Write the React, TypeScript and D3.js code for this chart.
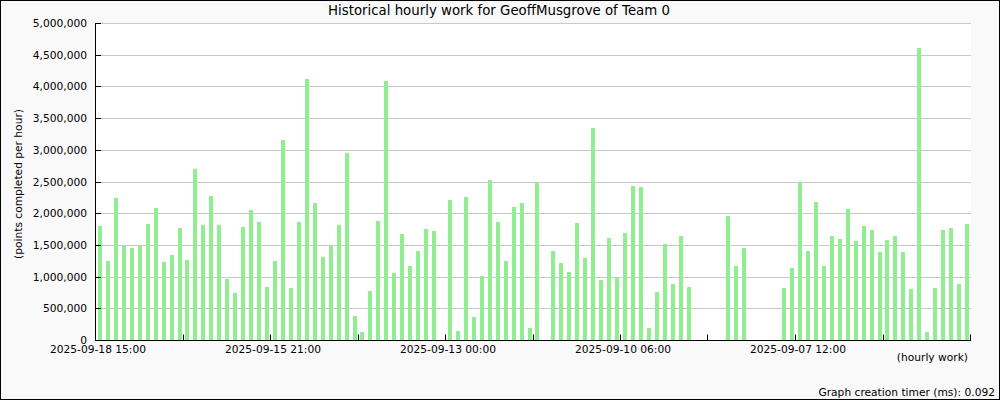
import React, { useEffect, useRef } from "react";
import * as d3 from "d3";

const TITLE = "Historical hourly work for GeoffMusgrove of Team 0";
const Y_LABEL = "(points completed per hour)";
const X_LABEL = "(hourly work)";
const FOOTER = "Graph creation timer (ms): 0.092";

const values: (number | null)[] = [
  1800000, 1250000, 2245000, 1488000, 1456000, 1488000, 1835000, 2087000, 1235000, 1346000,
  1772000, 1267000, 2702000, 1819000, 2276000, 1819000, 967000, 746000, 1787000, 2056000,
  1866000, 841000, 1251000, 3160000, 825000, 1866000, 4121000, 2166000, 1314000, 1488000,
  1819000, 2954000, 384000, 131000, 778000, 1882000, 4090000, 1062000, 1677000, 1172000,
  1409000, 1756000, 1724000, null, 2213000, 147000, 2261000, 368000, 1015000, 2529000,
  1866000, 1251000, 2103000, 2166000, 195000, 2481000, null, 1409000, 1220000, 1078000,
  1850000, 1298000, 3349000, 952000, 1614000, 999000, 1693000, 2434000, 2418000, 195000,
  762000, 1519000, 888000, 1645000, 841000, null, null, null, null, 1961000,
  1172000, 1456000, null, null, null, null, 825000, 1141000, 2497000, 1409000,
  2182000, 1172000, 1645000, 1598000, 2071000, 1567000, 1803000, 1740000, 1393000, 1582000,
  1645000, 1393000, 810000, 4610000, 131000, 825000, 1740000, 1772000, 888000, 1835000,
];

const tickSlots = [0, 11, 22, 33, 44, 55, 66, 77, 88, 99, 110];
const tickLabels = [
  "2025-09-18 15:00", "", "2025-09-15 21:00", "", "2025-09-13 00:00", "",
  "2025-09-10 06:00", "", "2025-09-07 12:00", "", "",
];
const yTicks = [0, 500000, 1000000, 1500000, 2000000, 2500000, 3000000, 3500000, 4000000, 4500000, 5000000];

const W = 1000;
const H = 400;
const FONT = "'DejaVu Sans', sans-serif";

export default function App() {
  const ref = useRef<SVGSVGElement>(null);

  useEffect(() => {
    document.body.style.margin = "0";
    const svg = d3.select(ref.current);
    svg.selectAll("*").remove();

    const left = 96, right = 971, top = 23.5, bottom = 340.5;
    const n = values.length;
    const xs = d3.scaleLinear().domain([0, n]).range([left, right]);
    const xb = d3.scaleBand<number>().domain(d3.range(n)).range([left, right]).paddingInner(0.5).paddingOuter(0.25);
    const y = d3.scaleLinear().domain([0, 5000000]).range([bottom, top]);
    const fmt = d3.format(",");

    svg.append("rect").attr("x", 0.5).attr("y", 0.5).attr("width", W - 1).attr("height", H - 1)
      .attr("fill", "#f9f9f9").attr("stroke", "#000").attr("stroke-width", 1);
    svg.append("rect").attr("x", left).attr("y", top - 0.5).attr("width", right - left).attr("height", bottom - top)
      .attr("fill", "#ffffff");

    // grid
    svg.append("g").selectAll("line").data(yTicks.slice(1)).join("line")
      .attr("x1", left).attr("x2", right)
      .attr("y1", (d) => Math.round(y(d) - 0.5) + 0.5).attr("y2", (d) => Math.round(y(d) - 0.5) + 0.5)
      .attr("stroke", "#c8c8c8").attr("stroke-width", 1);

    // bars
    svg.append("g").selectAll("rect").data(values.map((v, i) => ({ v, i })).filter((d) => d.v !== null)).join("rect")
      .attr("x", (d) => xb(d.i)!)
      .attr("width", xb.bandwidth())
      .attr("y", (d) => y(d.v as number))
      .attr("height", (d) => bottom - 0.5 - y(d.v as number))
      .attr("fill", "#90ee90")
      .attr("shape-rendering", "crispEdges");

    // axes lines
    svg.append("line").attr("x1", left - 0.5).attr("x2", left - 0.5).attr("y1", top - 0.5).attr("y2", bottom + 0.5)
      .attr("stroke", "#000");
    svg.append("line").attr("x1", left - 0.5).attr("x2", right).attr("y1", bottom).attr("y2", bottom)
      .attr("stroke", "#000");

    // y ticks
    const yg = svg.append("g");
    yTicks.forEach((t) => {
      const yy = Math.round(y(t) - 0.5) + 0.5;
      yg.append("line").attr("x1", left - 0.5).attr("x2", left + 5).attr("y1", yy).attr("y2", yy).attr("stroke", "#000");
      yg.append("text").attr("x", 87).attr("y", yy).attr("dy", "0.35em").attr("text-anchor", "end")
        .attr("font-family", FONT).attr("font-size", "10.67px").attr("fill", "#000").text(fmt(t));
    });

    // x ticks
    const xg = svg.append("g");
    tickSlots.forEach((s, k) => {
      const xx = Math.round(xs(s)) - 0.5;
      xg.append("line").attr("x1", xx).attr("x2", xx).attr("y1", bottom).attr("y2", bottom - 6).attr("stroke", "#000");
      if (tickLabels[k]) {
        xg.append("text").attr("x", xs(s) + 2).attr("y", 352.5).attr("text-anchor", "middle")
          .attr("font-family", FONT).attr("font-size", "10.67px").attr("fill", "#000").text(tickLabels[k]);
      }
    });

    svg.append("text").attr("x", 499).attr("y", 15).attr("text-anchor", "middle")
      .attr("font-family", FONT).attr("font-size", "13.33px").attr("fill", "#000").text(TITLE);
    svg.append("text").attr("transform", "translate(22,184) rotate(-90)").attr("text-anchor", "middle")
      .attr("font-family", FONT).attr("font-size", "10.67px").attr("fill", "#000").text(Y_LABEL);
    svg.append("text").attr("x", 968).attr("y", 361).attr("text-anchor", "end")
      .attr("font-family", FONT).attr("font-size", "10.67px").attr("fill", "#000").text(X_LABEL);
    svg.append("text").attr("x", 995).attr("y", 396).attr("text-anchor", "end")
      .attr("font-family", FONT).attr("font-size", "10.67px").attr("fill", "#000").text(FOOTER);
  }, []);

  return (
    <svg ref={ref} width={W} height={H} style={{ position: "absolute", left: 0, top: 0, display: "block" }} />
  );
}
